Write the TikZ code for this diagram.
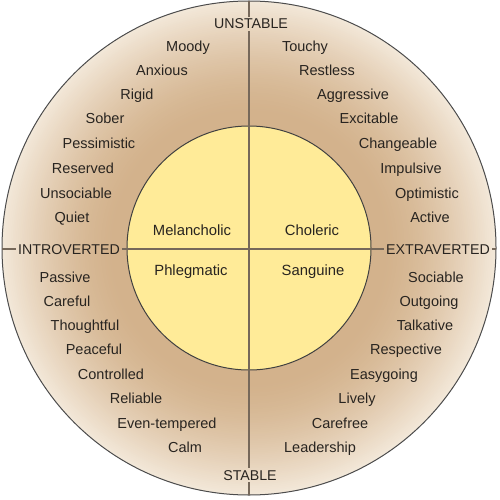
\documentclass[tikz,border=0pt]{standalone}
\usepackage{fontspec}
\setmainfont{Liberation Sans}
\definecolor{ringdark}{RGB}{211,178,140}
\definecolor{ringlight}{RGB}{243,232,217}
\definecolor{coreyellow}{RGB}{255,235,152}
\definecolor{axisline}{RGB}{118,104,90}
\definecolor{txt}{RGB}{40,36,32}
\begin{document}
\begin{tikzpicture}[x=1pt,y=-1pt,
  trait/.style={text=txt,font=\fontsize{14.5}{16}\selectfont,inner sep=0pt,anchor=base},
  axislabel/.style={text=txt,font=\fontsize{14.2}{16}\selectfont,inner sep=2pt,anchor=base},
  temper/.style={text=txt,font=\fontsize{14.8}{16}\selectfont,inner sep=0pt,anchor=base},
  axis/.style={draw=axisline,line width=1.1pt}]
\useasboundingbox (0,0) rectangle (500,500);
\coordinate (c) at (249,248);
% ring with radial gradient (light at rim, dark toward the core)
\foreach \i in {0,...,70}{
  \pgfmathsetmacro{\r}{247-\i*1.8}
  \pgfmathsetmacro{\q}{max(0,min(1,(\r-135)/(247-135)))}
  \pgfmathsetmacro{\p}{100*\q^1.5}
  \fill[ringlight!\p!ringdark] (c) circle[radius=\r];
}
\draw[line width=1pt,draw=black!70] (c) circle[radius=247];
\fill[coreyellow] (c) circle[radius=122];
\draw[line width=1pt,draw=black!75] (c) circle[radius=122];
% axis labels
\node[axislabel] (uns) at (251,29) {UNSTABLE};
\node[axislabel] (sta) at (250,480) {STABLE};
\node[axislabel] (intro) at (69,254) {INTROVERTED};
\node[axislabel] (extra) at (438,254) {EXTRAVERTED};
\coordinate (top) at (249,1);
\coordinate (bot) at (249,495);
\coordinate (lft) at (2,249);
\coordinate (rgt) at (496,249);
\draw[axis] (top) -- (top|-uns.north);
\draw[axis] (top|-uns.south) -- (top|-sta.north);
\draw[axis] (top|-sta.south) -- (bot);
\draw[axis] (lft) -- (lft-|intro.west);
\draw[axis] (lft-|intro.east) -- (lft-|extra.west);
\draw[axis] (lft-|extra.east) -- (rgt);
% temperaments
\node[temper] (mel) at (192,235) {Melancholic};
\node[temper] (cho) at (312,235) {Choleric};
\node[temper] (phl) at (191,275) {Phlegmatic};
\node[temper] (san) at (313,275) {Sanguine};
% upper left
\node[trait] (t1) at (188,52) {Moody};
\node[trait] (t2) at (162,76) {Anxious};
\node[trait] (t3) at (137,100) {Rigid};
\node[trait] (t4) at (105,124) {Sober};
\node[trait] (t5) at (99,148) {Pessimistic};
\node[trait] (t6) at (83,173) {Reserved};
\node[trait] (t7) at (76,198) {Unsociable};
\node[trait] (t8) at (72,222) {Quiet};
% upper right
\node[trait] (u1) at (305,52) {Touchy};
\node[trait] (u2) at (327,76) {Restless};
\node[trait] (u3) at (353,100) {Aggressive};
\node[trait] (u4) at (369,124) {Excitable};
\node[trait] (u5) at (398,148) {Changeable};
\node[trait] (u6) at (411,173) {Impulsive};
\node[trait] (u7) at (427,198) {Optimistic};
\node[trait] (u8) at (430,222) {Active};
% lower left
\node[trait] (l1) at (65,282) {Passive};
\node[trait] (l2) at (67,306) {Careful};
\node[trait] (l3) at (85,330) {Thoughtful};
\node[trait] (l4) at (94,354) {Peaceful};
\node[trait] (l5) at (111,379) {Controlled};
\node[trait] (l6) at (136,403) {Reliable};
\node[trait] (l7) at (167,428) {Even-tempered};
\node[trait] (l8) at (185,452) {Calm};
% lower right
\node[trait] (r1) at (436,282) {Sociable};
\node[trait] (r2) at (429,306) {Outgoing};
\node[trait] (r3) at (425,330) {Talkative};
\node[trait] (r4) at (406,354) {Respective};
\node[trait] (r5) at (384,379) {Easygoing};
\node[trait] (r6) at (357,403) {Lively};
\node[trait] (r7) at (340,428) {Carefree};
\node[trait] (r8) at (320,452) {Leadership};
\end{tikzpicture}
\end{document}
